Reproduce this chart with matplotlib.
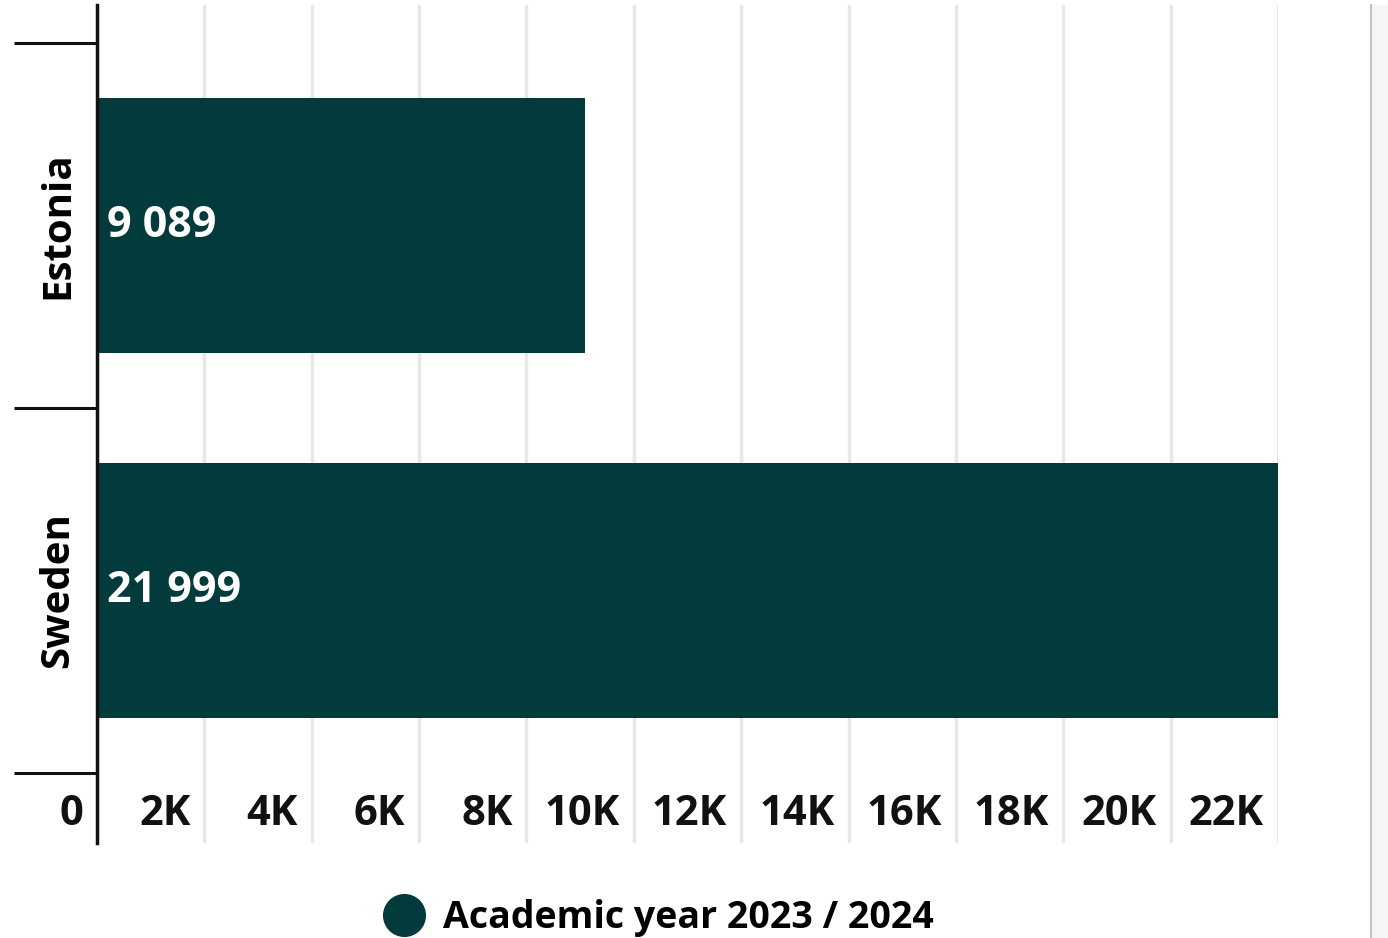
import matplotlib.pyplot as plt
from matplotlib.lines import Line2D
from matplotlib.patches import Rectangle

# =========================
# Data
# =========================
COUNTRIES = ["Estonia", "Sweden"]
VALUES = [9089, 21999]
VALUE_LABELS = ["9 089", "21 999"]
X_TICKS = [0, 2000, 4000, 6000, 8000, 10000, 12000, 14000, 16000, 18000, 20000, 22000]
X_TICK_LABELS = ["0", "2K", "4K", "6K", "8K", "10K", "12K", "14K", "16K", "18K", "20K", "22K"]
SERIES_NAME = "Academic year 2023 / 2024"

BAR_COLOR = "#033a3c"
GRID_COLOR = "#e8e8e8"
FONT = ["Open Sans", "DejaVu Sans"]

plt.rcParams["font.family"] = FONT
plt.rcParams["font.weight"] = "bold"

fig = plt.figure(figsize=(13.88, 9.38), dpi=100)
ax = fig.add_axes([0.0699, 0.1013, 0.8508, 0.8934])

ypos = list(range(len(COUNTRIES)))
ax.barh(ypos, VALUES, height=0.70, color=BAR_COLOR, zorder=3)

ax.set_xlim(0, 22000)
ax.set_ylim(1.692, -0.604)

# vertical grid
ax.set_xticks(X_TICKS)
ax.set_xticklabels([])
ax.tick_params(axis="x", length=0)
ax.grid(axis="x", color=GRID_COLOR, linewidth=2.5, zorder=0)

# x tick labels drawn inside the plot, right-aligned before each gridline
for xv, lab in zip(X_TICKS, X_TICK_LABELS):
    ax.annotate(lab, xy=(xv, 0.0334), xycoords=("data", "axes fraction"),
                xytext=(-10, 0), textcoords="offset points",
                ha="right", va="center", fontsize=30, fontweight="bold",
                color="#111111")

# y axis: boundary ticks + category labels
ax.set_yticks([-0.5, 0.5, 1.5])
ax.set_yticklabels([])
ax.tick_params(axis="y", which="major", length=60, width=2.2, color="#111111")
ax.set_yticks(ypos, minor=True)
ax.set_yticklabels(COUNTRIES, minor=True, rotation=90, va="center",
                   fontsize=29, fontweight="bold")
ax.tick_params(axis="y", which="minor", length=0, pad=14)

for side in ["top", "right", "bottom"]:
    ax.spines[side].set_visible(False)
ax.spines["left"].set_linewidth(2.5)
ax.spines["left"].set_color("#111111")
ax.spines["left"].set_zorder(5)

# value labels inside bars
for y, lab in zip(ypos, VALUE_LABELS):
    ax.annotate(lab, xy=(0, y), xytext=(7, 0), textcoords="offset points",
                ha="left", va="center", color="white", fontsize=31,
                fontweight="bold", zorder=6)

# legend
handle = Line2D([], [], marker="o", linestyle="none", markersize=30,
                markerfacecolor=BAR_COLOR, markeredgecolor=BAR_COLOR)
fig.legend([handle], [SERIES_NAME], loc="center", bbox_to_anchor=(0.474, 0.021),
           frameon=False, prop={"size": 27, "weight": "bold"},
           handletextpad=0.45, handlelength=1.2, borderaxespad=0)

# right side panel border
fig.patches.append(Rectangle((1372 / 1388, 0), 16 / 1388, 933 / 938,
                             transform=fig.transFigure, color="#f6f6f6", zorder=0))
fig.lines.append(Line2D([1371 / 1388, 1371 / 1388], [0, 933 / 938],
                        transform=fig.transFigure, color="#c4c4c4", linewidth=1.5))

fig.savefig("out.png", dpi=100)
